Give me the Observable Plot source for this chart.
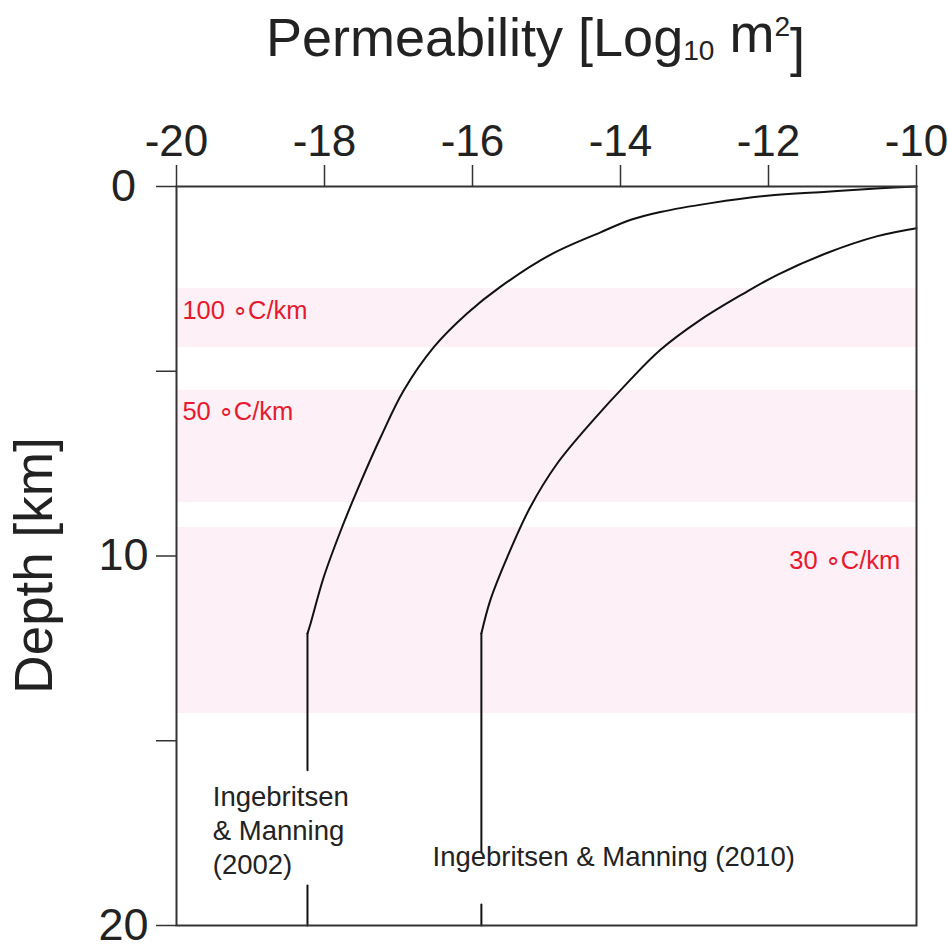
<!DOCTYPE html>
<html><head><meta charset="utf-8">
<script src="https://cdn.jsdelivr.net/npm/d3@7"></script>
<script src="https://cdn.jsdelivr.net/npm/@observablehq/plot@0.6"></script>
<style>html,body{margin:0;padding:0;background:#fff;overflow:hidden}svg{display:block}</style>
</head><body><div id="chart"></div>
<script>
// ---- data ----
const xTicks = [-20, -18, -16, -14, -12, -10];
const yTicks = [0, 5, 10, 15, 20];
const yTickLabels = ["0", "", "10", "", "20"];

const bandNames = ["100 \u2218C/km", "50 \u2218C/km", "30 \u2218C/km"];
const bandTop = [2.76, 5.52, 9.23];
const bandBottom = [4.36, 8.55, 14.26];
const bandLabelX = [-19.92, -19.92, -10.22];
const bandLabelDepth = [3.37, 6.11, 10.14];

// Ingebritsen & Manning (2002) curve: log10 k vs depth (km); segment ids (curve, vertical, vertical below label)
const perm2002  = [-10, -10.49, -11.21, -12.02, -12.78, -13.46, -13.86, -14.27, -14.95, -15.62, -16.07, -16.52, -16.93, -17.24, -17.56, -17.78, -18.01, -18.19, -18.23, -18.23, -18.23, -18.23, -18.23];
const depth2002 = [0, 0.05, 0.14, 0.25, 0.45, 0.69, 0.90, 1.24, 1.85, 2.71, 3.43, 4.34, 5.52, 6.78, 8.23, 9.31, 10.57, 11.84, 12.10, 12.10, 15.80, 18.92, 20];
const seg2002   = [1,1,1,1,1,1,1,1,1,1,1,1,1,1,1,1,1,1,1,2,2,3,3];

// Ingebritsen & Manning (2010) curve
const perm2010  = [-10, -10.54, -11.21, -11.88, -12.33, -12.92, -13.46, -13.91, -14.38, -14.86, -15.22, -15.53, -15.76, -15.88, -15.88, -15.88, -15.88, -15.88];
const depth2010 = [1.13, 1.35, 1.80, 2.39, 2.89, 3.61, 4.42, 5.32, 6.35, 7.51, 8.68, 10.03, 11.20, 12.10, 12.10, 18.00, 19.43, 20];
const seg2010   = [1,1,1,1,1,1,1,1,1,1,1,1,1,1,2,2,3,3];

const curveLabels = ["Ingebritsen\n& Manning\n(2002)", "Ingebritsen & Manning (2010)"];
const curveLabelX = [-19.51, -16.54];
const curveLabelDepth = [16.10, 18.16];

// ---- tables ----
const bands = bandNames.map((n, i) => ({name: n, top: bandTop[i], bottom: bandBottom[i], lx: bandLabelX[i], ly: bandLabelDepth[i]}));
const lines = [
  ...perm2002.map((k, i) => ({k, d: depth2002[i], id: "a" + seg2002[i]})),
  ...perm2010.map((k, i) => ({k, d: depth2010[i], id: "b" + seg2010[i]}))
];
const labels = curveLabels.map((t, i) => ({t, x: curveLabelX[i], y: curveLabelDepth[i]}));

const RED = "#e8192e";
const FONT = "'Liberation Sans', Arial, Helvetica, sans-serif";

const chart = Plot.plot({
  width: 948, height: 951,
  marginLeft: 176, marginRight: 32, marginTop: 186, marginBottom: 26,
  style: {fontFamily: FONT, background: "#fff", color: "#222"},
  x: {domain: [-20, -10]},
  y: {domain: [0, 20], reverse: true},
  marks: [
    Plot.rect(bands, {y1: "top", y2: "bottom", fill: "#fdf0f6"}),
    Plot.text(bands.slice(0, 2), {x: "lx", y: "ly", text: "name", fill: RED, fontSize: 25.5, textAnchor: "start"}),
    Plot.text(bands.slice(2), {x: "lx", y: "ly", text: "name", fill: RED, fontSize: 25.5, textAnchor: "end"}),
    Plot.line(lines, {x: "k", y: "d", z: "id", stroke: "#111", strokeWidth: 2, curve: "catmull-rom"}),
    Plot.text(labels.slice(0, 1), {x: "x", y: "y", text: "t", fontSize: 27.5, textAnchor: "start", lineAnchor: "top", lineHeight: 1.24, fill: "#222"}),
    Plot.text(labels.slice(1), {x: "x", y: "y", text: "t", fontSize: 27.5, textAnchor: "start", fill: "#222"}),
    Plot.frame({stroke: "#333", strokeWidth: 2}),
    Plot.axisX({anchor: "top", ticks: xTicks, tickSize: 22, tickPadding: 9, fontSize: 44, label: null, stroke: "#333", strokeWidth: 1.5, tickFormat: d => String(d).replace("\u2212", "-")}),
    Plot.axisY({anchor: "left", ticks: yTicks, tickSize: 20, tickPadding: 33, fontSize: 45, textAnchor: "middle", label: null, stroke: "#333", strokeWidth: 1.5, tickFormat: d => yTickLabels[yTicks.indexOf(d)]}),
    Plot.text(["Permeability [Log10 m2]"], {frameAnchor: "top", lineAnchor: "middle", textAnchor: "middle", dy: -148, dx: -11, fontSize: 54, fill: "#222"}),
    Plot.text(["Depth [km]"], {frameAnchor: "left", lineAnchor: "middle", textAnchor: "middle", rotate: -90, dx: -141, dy: 9.5, fontSize: 53, fill: "#222"})
  ]
});

document.getElementById("chart").appendChild(chart);

// sub/superscripts in the title
d3.select(chart).selectAll("text").each(function() {
  if (this.textContent === "Permeability [Log10 m2]") {
    const t = d3.select(this);
    t.text(null);
    t.append("tspan").text("Permeability [Log");
    t.append("tspan").attr("font-size", "0.52em").attr("dy", "0.15em").text("10");
    t.append("tspan").attr("dy", "-0.15em").text(" m");
    t.append("tspan").attr("font-size", "0.52em").attr("dy", "-0.55em").text("2");
    t.append("tspan").attr("dy", "0.55em").text("]");
  }
});
</script></body></html>
